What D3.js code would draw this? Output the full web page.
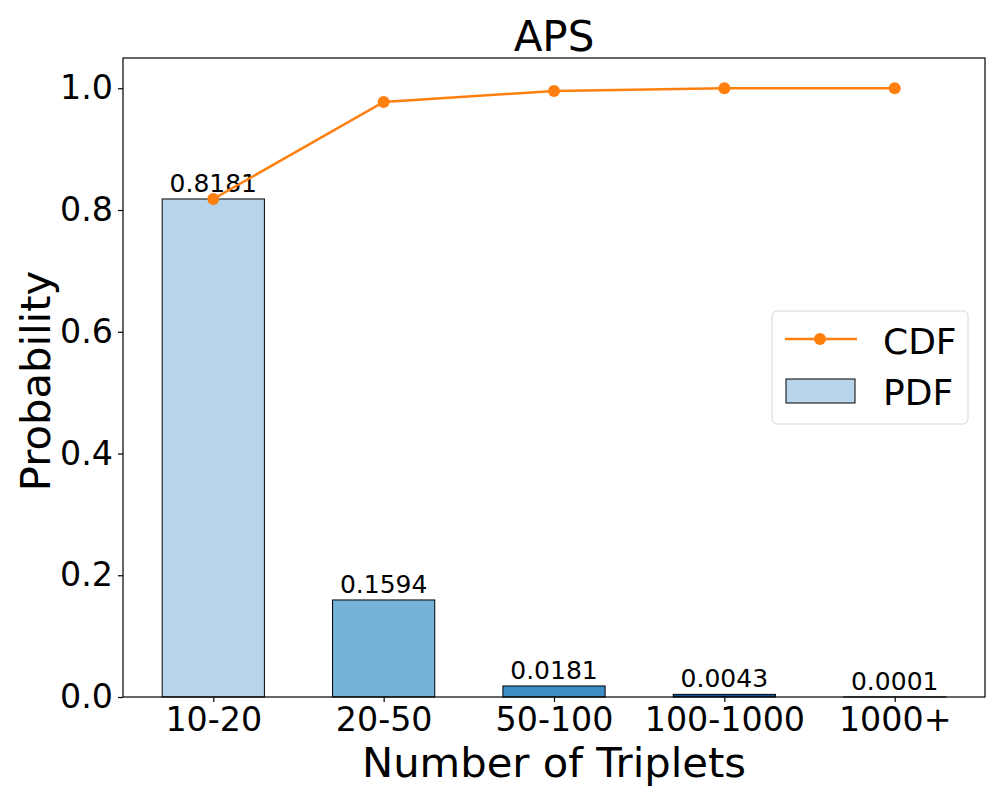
<!DOCTYPE html>
<html><head><meta charset="utf-8">
<script src="https://cdn.jsdelivr.net/npm/d3@7"></script>
<style>body{margin:0;background:#fff;}svg{font-family:"DejaVu Sans",sans-serif;}</style>
</head><body>
<svg id="c" width="1000" height="800"></svg>
<script>
const categories = ["10-20","20-50","50-100","100-1000","1000+"];
const pdfValues = [0.8181,0.1594,0.0181,0.0043,0.0001];
const cdfValues = [0.8181,0.9775,0.9956,0.9999,1.0];
const barColors = ["#b7d4ea","#75b3d8","#3d8dc4","#0f59a3","#08306b"];
const yTicks = [0,0.2,0.4,0.6,0.8,1.0];

const svg = d3.select("#c");
const L=123,R=985,T=58,B=697;
const x = d3.scaleLinear().domain([-0.53,4.53]).range([L,R]);
const y = d3.scaleLinear().domain([0,1.0497]).range([B,T]);
const bw = x(0.6)-x(0);

svg.selectAll("rect.bar").data(pdfValues).join("rect")
  .attr("x",(d,i)=>x(i)-bw/2).attr("width",bw)
  .attr("y",d=>y(d)).attr("height",d=>B-y(d))
  .attr("fill",(d,i)=>barColors[i]).attr("stroke","#000").attr("stroke-width",1);

svg.selectAll("text.val").data(pdfValues).join("text")
  .attr("x",(d,i)=>x(i)).attr("y",d=>y(d)-7)
  .attr("text-anchor","middle").attr("font-size",25).text(d=>d.toFixed(4));

const line = d3.line().x((d,i)=>x(i)).y(d=>y(d));
svg.append("path").datum(cdfValues).attr("d",line).attr("fill","none")
  .attr("stroke","#ff7f0e").attr("stroke-width",2.5);
svg.selectAll("circle.pt").data(cdfValues).join("circle")
  .attr("cx",(d,i)=>x(i)).attr("cy",d=>y(d)).attr("r",6).attr("fill","#ff7f0e");

// frame
svg.append("rect").attr("x",L).attr("y",T).attr("width",R-L).attr("height",B-T)
  .attr("fill","none").attr("stroke","#000").attr("stroke-width",1.2);

// axes
const xa = svg.append("g").attr("transform",`translate(0,${B})`)
  .call(d3.axisBottom(x).tickValues(d3.range(categories.length)).tickFormat(i=>categories[i]).tickSize(5).tickSizeOuter(0));
const ya = svg.append("g").attr("transform",`translate(${L},0)`)
  .call(d3.axisLeft(y).tickValues(yTicks).tickFormat(d3.format(".1f")).tickSize(5).tickSizeOuter(0));
[xa,ya].forEach(g=>{g.select(".domain").remove();
  g.selectAll("text").attr("font-size",33.3).attr("fill","#000").style("font-family","DejaVu Sans");
  g.selectAll("line").attr("stroke","#000").attr("stroke-width",1.2);});
xa.selectAll("text").attr("dy","0.76em").attr("y",9);
ya.selectAll("text").attr("x",-10);

svg.append("text").attr("x",554).attr("y",51).attr("text-anchor","middle").attr("font-size",42).text("APS");
svg.append("text").attr("x",554).attr("y",777).attr("text-anchor","middle").attr("font-size",41.7).text("Number of Triplets");
svg.append("text").attr("transform","translate(50,381) rotate(-90)").attr("text-anchor","middle").attr("font-size",41.7).text("Probability");

// legend
const lg = svg.append("g");
lg.append("rect").attr("x",772).attr("y",311).attr("width",196).attr("height",113).attr("rx",5)
  .attr("fill","#fff").attr("fill-opacity",0.8).attr("stroke","#d6d6d6").attr("stroke-width",1);
lg.append("line").attr("x1",785).attr("x2",857).attr("y1",339).attr("y2",339).attr("stroke","#ff7f0e").attr("stroke-width",2.5);
lg.append("circle").attr("cx",820).attr("cy",339).attr("r",6).attr("fill","#ff7f0e");
lg.append("rect").attr("x",786).attr("y",379).attr("width",69).attr("height",24).attr("fill",barColors[0]).attr("stroke","#000");
lg.append("text").attr("x",883).attr("y",354).attr("font-size",36).text("CDF");
lg.append("text").attr("x",883).attr("y",405).attr("font-size",36).text("PDF");
</script>
</body></html>
